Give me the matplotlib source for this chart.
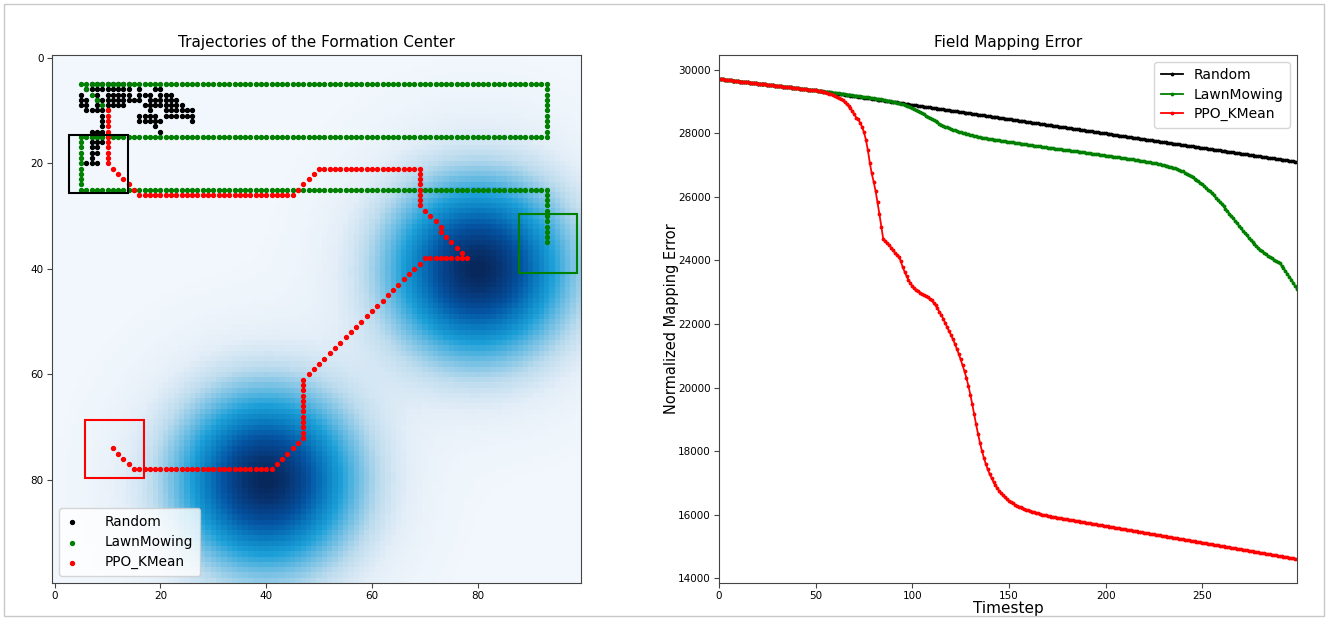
import numpy as np
import matplotlib
matplotlib.use("Agg")
import matplotlib.pyplot as plt
from matplotlib.colors import LinearSegmentedColormap
from matplotlib.patches import Rectangle

# ---- field: two gaussian hot spots on a 100x100 grid (col, row) ----
grid_size = 100
spot_centers = [(80, 40), (40, 80)]
spot_sigma = [12.0, 12.0]

# ---- formation center trajectories (grid cells, col/row) ----
rand_x = [7, 8, 9, 10, 11, 12, 13, 14,
          6, 7, 8, 9, 10, 11, 12, 13, 14, 16, 19, 20,
          5, 8, 10, 11, 12, 13, 14, 16, 17, 18, 20, 21, 22,
          5, 6, 8, 9, 10, 11, 12, 13, 14, 15, 16, 18, 19, 20, 21, 22, 23,
          5, 6, 8, 10, 11, 12, 13, 17, 18, 19, 20, 21, 22, 23, 24,
          6, 7, 8, 9, 18, 21, 22, 23, 24, 25, 26,
          9, 16, 17, 18, 19, 21, 22, 23, 24, 25, 26,
          9, 16, 17, 18, 19, 20, 26,
          9, 19,
          7, 8, 9, 20,
          7, 8, 9,
          7, 8, 9,
          7, 8,
          7, 8,
          7,
          6, 7, 8]
rand_y = [5] * 8 + [6] * 12 + [7] * 13 + [8] * 17 + [9] * 15 + [10] * 11 + \
         [11] * 11 + [12] * 7 + [13] * 2 + [14] * 4 + [15] * 3 + [16] * 3 + \
         [17] * 2 + [18] * 2 + [19] * 1 + [20] * 3

lawn_corners = [(10, 10), (5, 5), (93, 5), (93, 15), (5, 15), (5, 25), (93, 25), (93, 35)]
ppo_corners = [(10, 10), (10, 20), (16, 26), (45, 26), (50, 21), (69, 21), (69, 28),
               (73, 32), (73, 33), (78, 38), (70, 38), (47, 61), (47, 72), (41, 78),
               (15, 78), (11, 74)]

# ---- mapping error per timestep ----
err_random = [
    29710, 29703, 29696, 29688, 29681, 29674, 29667, 29660, 29652, 29645,
    29638, 29631, 29624, 29616, 29609, 29602, 29595, 29588, 29580, 29573,
    29566, 29559, 29552, 29544, 29537, 29530, 29523, 29516, 29508, 29501,
    29494, 29487, 29480, 29472, 29465, 29458, 29451, 29444, 29436, 29429,
    29422, 29415, 29408, 29400, 29393, 29386, 29379, 29372, 29364, 29357,
    29350, 29341, 29332, 29323, 29314, 29305, 29296, 29287, 29278, 29269,
    29260, 29251, 29242, 29233, 29224, 29214, 29205, 29196, 29187, 29178,
    29169, 29160, 29151, 29142, 29133, 29124, 29115, 29106, 29097, 29088,
    29079, 29070, 29061, 29052, 29043, 29034, 29025, 29016, 29007, 28998,
    28989, 28980, 28971, 28962, 28953, 28944, 28935, 28926, 28917, 28907,
    28898, 28889, 28880, 28871, 28862, 28853, 28844, 28835, 28826, 28817,
    28808, 28799, 28790, 28781, 28772, 28763, 28754, 28745, 28736, 28727,
    28718, 28709, 28700, 28691, 28682, 28673, 28664, 28655, 28646, 28637,
    28628, 28619, 28609, 28600, 28591, 28582, 28573, 28564, 28555, 28546,
    28537, 28528, 28519, 28510, 28501, 28492, 28483, 28474, 28465, 28456,
    28447, 28438, 28429, 28420, 28411, 28402, 28393, 28384, 28375, 28366,
    28357, 28348, 28339, 28330, 28320, 28311, 28302, 28293, 28284, 28275,
    28266, 28257, 28248, 28239, 28230, 28221, 28212, 28203, 28194, 28185,
    28176, 28167, 28158, 28149, 28140, 28131, 28122, 28113, 28104, 28095,
    28086, 28077, 28068, 28059, 28050, 28041, 28031, 28022, 28013, 28004,
    27995, 27986, 27977, 27968, 27959, 27950, 27941, 27932, 27923, 27914,
    27905, 27896, 27887, 27878, 27869, 27860, 27851, 27842, 27833, 27824,
    27815, 27806, 27797, 27788, 27779, 27770, 27761, 27752, 27742, 27733,
    27724, 27715, 27706, 27697, 27688, 27679, 27670, 27661, 27652, 27643,
    27634, 27625, 27616, 27607, 27598, 27589, 27580, 27571, 27562, 27553,
    27544, 27535, 27526, 27517, 27508, 27499, 27490, 27481, 27472, 27463,
    27453, 27444, 27435, 27426, 27417, 27408, 27399, 27390, 27381, 27372,
    27363, 27354, 27345, 27336, 27327, 27318, 27309, 27300, 27291, 27282,
    27273, 27264, 27255, 27246, 27237, 27228, 27219, 27210, 27201, 27192,
    27183, 27174, 27164, 27155, 27146, 27137, 27128, 27119, 27110, 27101]

err_lawn = [
    29710, 29703, 29696, 29688, 29681, 29674, 29667, 29660, 29652, 29645,
    29638, 29631, 29624, 29616, 29609, 29602, 29595, 29588, 29580, 29573,
    29566, 29559, 29552, 29544, 29537, 29530, 29523, 29516, 29508, 29501,
    29494, 29487, 29480, 29472, 29465, 29458, 29451, 29444, 29436, 29429,
    29422, 29415, 29408, 29400, 29393, 29386, 29379, 29372, 29364, 29357,
    29350, 29342, 29334, 29326, 29318, 29310, 29302, 29294, 29286, 29278,
    29270, 29262, 29254, 29246, 29238, 29230, 29222, 29214, 29206, 29198,
    29190, 29182, 29174, 29166, 29158, 29150, 29141, 29132, 29123, 29114,
    29105, 29095, 29085, 29075, 29065, 29055, 29044, 29033, 29021, 29009,
    29000, 28985, 28970, 28953, 28937, 28920, 28898, 28875, 28851, 28826,
    28800, 28768, 28735, 28701, 28666, 28630, 28594, 28558, 28522, 28486,
    28450, 28414, 28378, 28342, 28306, 28270, 28240, 28212, 28184, 28157,
    28130, 28110, 28090, 28070, 28050, 28030, 28014, 27998, 27982, 27966,
    27950, 27936, 27922, 27908, 27894, 27880, 27869, 27858, 27847, 27836,
    27825, 27815, 27805, 27795, 27785, 27775, 27766, 27757, 27748, 27739,
    27730, 27721, 27712, 27703, 27694, 27685, 27676, 27667, 27658, 27649,
    27640, 27631, 27622, 27613, 27604, 27595, 27586, 27577, 27568, 27559,
    27550, 27542, 27534, 27526, 27518, 27510, 27502, 27494, 27486, 27478,
    27470, 27462, 27454, 27446, 27438, 27430, 27422, 27414, 27406, 27398,
    27390, 27381, 27372, 27363, 27354, 27345, 27336, 27327, 27318, 27309,
    27300, 27292, 27283, 27275, 27266, 27258, 27249, 27241, 27232, 27224,
    27215, 27206, 27196, 27187, 27177, 27168, 27158, 27149, 27139, 27130,
    27120, 27109, 27098, 27087, 27076, 27065, 27053, 27040, 27027, 27014,
    27000, 26985, 26969, 26953, 26937, 26920, 26898, 26874, 26850, 26825,
    26800, 26766, 26730, 26694, 26657, 26620, 26578, 26535, 26491, 26446,
    26400, 26345, 26288, 26230, 26171, 26110, 26045, 25979, 25913, 25847,
    25780, 25705, 25629, 25553, 25477, 25400, 25322, 25244, 25166, 25088,
    25010, 24936, 24862, 24788, 24714, 24640, 24578, 24516, 24454, 24392,
    24330, 24284, 24238, 24192, 24146, 24100, 24064, 24028, 23992, 23956,
    23920, 23840, 23760, 23670, 23580, 23490, 23400, 23300, 23200, 23100]

err_ppo = [
    29710, 29703, 29696, 29688, 29681, 29674, 29667, 29660, 29652, 29645,
    29638, 29631, 29624, 29616, 29609, 29602, 29595, 29588, 29580, 29573,
    29566, 29559, 29552, 29544, 29537, 29530, 29523, 29516, 29508, 29501,
    29494, 29487, 29480, 29472, 29465, 29458, 29451, 29444, 29436, 29429,
    29422, 29415, 29408, 29400, 29393, 29386, 29379, 29372, 29364, 29357,
    29350, 29340, 29330, 29318, 29305, 29290, 29272, 29252, 29230, 29205,
    29178, 29148, 29115, 29078, 29038, 28990, 28930, 28870, 28790, 28700,
    28600, 28490, 28450, 28330, 28200, 28030, 27800, 27470, 27080, 26740,
    26480, 26190, 25830, 25450, 25060, 24660, 24614, 24551, 24488, 24404,
    24320, 24247, 24184, 24120, 23984, 23795, 23648, 23511, 23385, 23291,
    23196, 23123, 23070, 23028, 22986, 22955, 22913, 22881, 22839, 22797,
    22745, 22671, 22587, 22493, 22388, 22283, 22167, 22031, 21905, 21779,
    21653, 21516, 21380, 21222, 21065, 20887, 20700, 20510, 20300, 20060,
    19780, 19480, 19160, 18840, 18540, 18260, 18010, 17790, 17600, 17430,
    17280, 17150, 17030, 16925, 16830, 16745, 16670, 16605, 16545, 16490,
    16440, 16395, 16355, 16318, 16285, 16255, 16228, 16203, 16180, 16158,
    16138, 16118, 16098, 16078, 16058, 16040, 16022, 16005, 15990, 15975,
    15960, 15949, 15939, 15928, 15918, 15907, 15897, 15886, 15876, 15865,
    15855, 15844, 15834, 15823, 15813, 15802, 15792, 15781, 15771, 15760,
    15750, 15739, 15729, 15718, 15708, 15697, 15687, 15676, 15666, 15655,
    15645, 15634, 15624, 15613, 15603, 15592, 15582, 15571, 15561, 15550,
    15540, 15529, 15519, 15508, 15498, 15487, 15477, 15466, 15456, 15445,
    15435, 15424, 15414, 15403, 15393, 15382, 15372, 15361, 15351, 15340,
    15330, 15319, 15309, 15298, 15288, 15277, 15267, 15256, 15246, 15235,
    15225, 15214, 15204, 15193, 15183, 15172, 15162, 15151, 15141, 15130,
    15120, 15109, 15099, 15088, 15078, 15067, 15057, 15046, 15036, 15025,
    15015, 15004, 14994, 14983, 14973, 14962, 14952, 14941, 14931, 14920,
    14910, 14899, 14889, 14878, 14868, 14857, 14847, 14836, 14826, 14815,
    14805, 14794, 14784, 14773, 14763, 14752, 14742, 14731, 14721, 14710,
    14700, 14689, 14679, 14668, 14658, 14647, 14637, 14626, 14616, 14605]

labels = ["Random", "LawnMowing", "PPO_KMean"]
colors = ["black", "green", "red"]


def walk(corners):
    # unit grid steps between consecutive corners (straight or diagonal legs)
    xs, ys = [corners[0][0]], [corners[0][1]]
    for (x0, y0), (x1, y1) in zip(corners[:-1], corners[1:]):
        n = max(abs(x1 - x0), abs(y1 - y0))
        for i in range(1, n + 1):
            xs.append(x0 + (x1 - x0) * i // n)
            ys.append(y0 + (y1 - y0) * i // n)
    return xs, ys


lawn_x, lawn_y = walk(lawn_corners)
ppo_x, ppo_y = walk(ppo_corners)

gx, gy = np.meshgrid(np.arange(grid_size), np.arange(grid_size))
field = np.zeros((grid_size, grid_size))
for (cx, cy), s in zip(spot_centers, spot_sigma):
    field += np.exp(-((gx - cx) ** 2 + (gy - cy) ** 2) / (2 * s ** 2))

cmap = LinearSegmentedColormap.from_list(
    "field",
    [(0.0, "#f1f7fc"), (0.08, "#e3eef8"), (0.2, "#bddcee"), (0.35, "#6dbde3"),
     (0.5, "#1ca0d8"), (0.65, "#0a7cc0"), (0.8, "#0452a0"), (0.92, "#073a7c"),
     (1.0, "#08285c")], N=256)

fig = plt.figure(figsize=(13.28, 6.19), dpi=100)
W, H = 1328, 619

ax1 = fig.add_axes([52 / W, 36 / H, 529 / W, 528 / H])
ax1.imshow(field, cmap=cmap, vmin=0, vmax=1.0, aspect="auto", interpolation="nearest")
ax1.scatter(rand_x, rand_y, s=8, c="black", label=labels[0], zorder=3)
ax1.scatter(lawn_x, lawn_y, s=8, c="green", label=labels[1], zorder=3)
ax1.scatter(ppo_x, ppo_y, s=8, c="red", label=labels[2], zorder=4)

ends = [(rand_x[-1], rand_y[-1]), (lawn_x[-1], lawn_y[-1]), (ppo_x[-1], ppo_y[-1])]
for (ex, ey), c in zip(ends, colors):
    ax1.add_patch(Rectangle((ex - 5.2, ey - 5.3), 11, 11, fill=False, ec=c, lw=1.5, zorder=5))

ax1.set_xlim(-0.5, 99.5)
ax1.set_ylim(99.5, -0.5)
ax1.set_xticks([0, 20, 40, 60, 80])
ax1.set_yticks([0, 20, 40, 60, 80])
ax1.tick_params(labelsize=7.5, length=3.5, pad=2.5, color="#444444")
for sp in ax1.spines.values():
    sp.set_color("#444444")
ax1.set_title("Trajectories of the Formation Center", fontsize=11)
ax1.legend(loc="lower left", fontsize=9.8, markerscale=1.0, handlelength=1.0,
           handletextpad=1.9, borderpad=0.5, labelspacing=0.45)

ax2 = fig.add_axes([719 / W, 36 / H, 578 / W, 528 / H])
t = np.arange(len(err_random))
ax2.plot(t, err_random, color="black", marker=".", markersize=3.5, lw=1.3, label=labels[0])
ax2.plot(t, err_lawn, color="green", marker=".", markersize=3.5, lw=1.3, label=labels[1])
ax2.plot(t, err_ppo, color="red", marker=".", markersize=3.5, lw=1.3, label=labels[2])
ax2.set_xlim(0, 299)
ax2.tick_params(labelsize=7.5, length=3.5, pad=2.5, color="#444444")
for sp in ax2.spines.values():
    sp.set_color("#444444")
ax2.set_title("Field Mapping Error", fontsize=11)
ax2.set_xlabel("Timestep", fontsize=11, labelpad=0)
ax2.set_ylabel("Normalized Mapping Error", fontsize=10.5, labelpad=-1)
ax2.legend(loc="upper right", fontsize=10, labelspacing=0.4, handlelength=1.6,
           handletextpad=0.8, borderpad=0.45)

fig.add_artist(Rectangle((4 / W, 3 / H), 1320 / W, 612 / H, transform=fig.transFigure,
                         fill=False, ec="#c8c8c8", lw=1))

fig.savefig("out.png", dpi=100)
